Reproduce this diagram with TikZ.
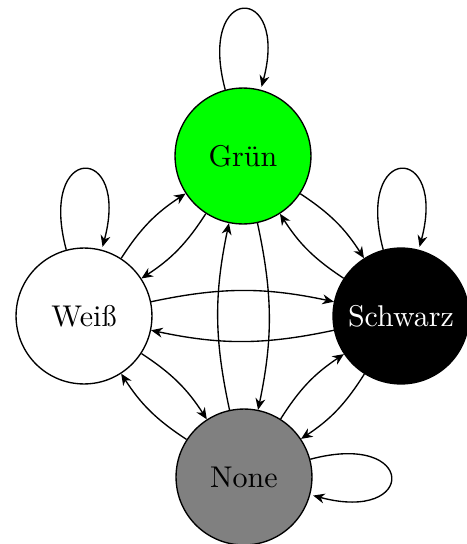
\documentclass[tikz,border=0pt]{standalone}
\usetikzlibrary{arrows.meta}
\begin{document}
\begin{tikzpicture}[x=0.3333pt,y=0.3333pt,>={Stealth[length=3.8pt,width=3.3pt,inset=1.2pt]},
  line width=0.45pt,
  state/.style={circle,draw,minimum size=45.3pt,inner sep=0pt},
  trans/.style={->,bend left=12}]
\useasboundingbox (0,0) rectangle (467,544);
\node[state,fill=green] (G) at (243,388) {Grün};
\node[state,fill=white] (W) at (84,228) {Weiß};
\node[state,fill=black,text=white] (S) at (401,228) {Schwarz};
\node[state,fill=gray] (N) at (244,67) {None};

% self loops
\path (G) edge[->,loop above] (G);
\path (W) edge[->,loop above] (W);
\path (S) edge[->,loop above] (S);
\path (N) edge[->,loop right] (N);

% transitions between states
\draw[trans] (W) to (G);
\draw[trans] (G) to (W);
\draw[trans] (G) to (S);
\draw[trans] (S) to (G);
\draw[trans] (W) to (S);
\draw[trans] (S) to (W);
\draw[trans] (G) to (N);
\draw[trans] (N) to (G);
\draw[trans] (W) to (N);
\draw[trans] (N) to (W);
\draw[trans] (S) to (N);
\draw[trans] (N) to (S);
\end{tikzpicture}
\end{document}
